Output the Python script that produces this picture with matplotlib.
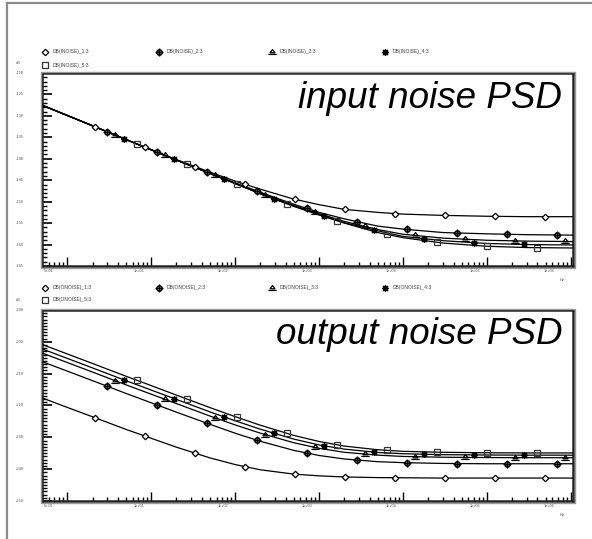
import numpy as np
import matplotlib
matplotlib.use("Agg")
import matplotlib.pyplot as plt
from matplotlib.path import Path
from matplotlib.patches import Rectangle
from matplotlib.ticker import FixedLocator, NullFormatter
from matplotlib.transforms import blended_transform_factory

plt.rcParams['font.family'] = ['Liberation Sans', 'DejaVu Sans']

# frequency points (Hz)
freq = [0.5, 1, 2, 5, 10, 20, 50, 100, 200, 500, 1e3, 2e3, 5e3, 1e4, 3e4, 1e5, 3e5, 1.06e6]

# input noise PSD (dB)
in_1 = [-127.5, -129.9, -132.3, -135.5, -137.9, -140.2, -143.1, -145.2, -147.1, -149.4,
        -150.7, -151.8, -152.5, -152.9, -153.2, -153.4, -153.5, -153.5]
in_2 = [-127.5, -129.9, -132.3, -135.5, -137.9, -140.3, -143.4, -145.6, -147.8, -150.6,
        -152.5, -154.0, -155.7, -156.4, -157.2, -157.5, -157.7, -157.8]
in_3 = [-127.5, -129.9, -132.3, -135.5, -137.9, -140.3, -143.4, -145.7, -148.0, -150.9,
        -152.8, -154.6, -156.5, -157.6, -158.5, -159.0, -159.2, -159.3]
in_4 = [-127.5, -129.9, -132.3, -135.5, -137.9, -140.3, -143.4, -145.75, -148.1, -151.0,
        -153.0, -154.9, -156.8, -158.1, -159.1, -159.75, -160.0, -160.1]
in_5 = [-127.5, -129.9, -132.3, -135.5, -137.9, -140.3, -143.4, -145.8, -148.2, -151.1,
        -153.1, -155.0, -157.2, -158.4, -159.65, -160.4, -160.7, -160.8]

# output noise PSD (dB)
out_1 = [-217.6, -220.6, -223.55, -227.5, -230.3, -233.1, -236.45, -238.55, -240.2, -241.55,
         -242.1, -242.45, -242.65, -242.7, -242.8, -242.8, -242.8, -242.8]
out_2 = [-206.2, -209.2, -212.2, -216.2, -219.15, -222.1, -225.9, -228.7, -231.25, -234.1,
         -235.7, -236.8, -237.65, -237.95, -238.2, -238.3, -238.3, -238.3]
out_3 = [-203.5, -206.5, -209.5, -213.5, -216.45, -219.4, -223.3, -226.1, -228.7, -231.7,
         -233.45, -234.7, -235.6, -236.0, -236.25, -236.35, -236.4, -236.4]
out_4 = [-202.2, -205.2, -208.2, -212.2, -215.15, -218.1, -222.0, -224.8, -227.45, -230.55,
         -232.4, -233.7, -234.75, -235.15, -235.45, -235.55, -235.6, -235.6]
out_5 = [-200.8, -203.8, -206.8, -210.8, -213.75, -216.75, -220.65, -223.5, -226.2, -229.4,
         -231.3, -232.75, -233.9, -234.4, -234.7, -234.85, -234.9, -234.9]

in_names = ["DB(INOISE)_1:3", "DB(INOISE)_2:3", "DB(INOISE)_3:3", "DB(INOISE)_4:3", "DB(INOISE)_5:3"]
out_names = ["DB(ONOISE)_1:3", "DB(ONOISE)_2:3", "DB(ONOISE)_3:3", "DB(ONOISE)_4:3", "DB(ONOISE)_5:3"]
x_tick_labels = ["1e+01", "1e+02", "1e+03", "1e+04", "1e+05", "1e+06"]

# trace symbols: first marker position (log10 Hz) per trace, same spacing for all
mark_start = [0.333, 0.476, 0.571, 0.679, 0.833]
mark_step = 0.595

W, H = 592, 539
fig = plt.figure(figsize=(W / 100, H / 100), dpi=100)
fig.patch.set_facecolor('white')

tri = Path([(-0.5, -0.05), (0, 0.6), (0.5, -0.05), (-0.5, -0.05), (-0.85, -0.4), (0.85, -0.4)],
           [Path.MOVETO, Path.LINETO, Path.LINETO, Path.CLOSEPOLY, Path.MOVETO, Path.LINETO])


def put_marker(ax, x, y, i, **kw):
    if i == 0:
        ax.plot(x, y, ls='none', marker='D', ms=3.3, mfc='white', mec='k', mew=0.9, **kw)
    elif i == 1:
        ax.plot(x, y, ls='none', marker='o', ms=3.9, mfc='#888', mec='k', mew=1.0, **kw)
        ax.plot(x, y, ls='none', marker='+', ms=6.0, mec='k', mew=1.0, **kw)
    elif i == 2:
        ax.plot(x, y, ls='none', marker=tri, ms=6.0, mfc='none', mec='k', mew=0.9, **kw)
    elif i == 3:
        ax.plot(x, y, ls='none', marker=(8, 2, 0), ms=5.0, mec='k', mew=0.9, **kw)
    else:
        ax.plot(x, y, ls='none', marker='s', ms=4.2, mfc='none', mec='#333', mew=0.9, **kw)


def draw_panel(top_px, bot_px, series, ylo, yhi, ymajor, title, title_base):
    ax = fig.add_axes([42 / W, 1 - bot_px / H, (573 - 42) / W, (bot_px - top_px) / H])
    lf = np.log10(freq)
    for i, s in enumerate(series):
        ax.plot(freq, s, color='k', lw=0.9, zorder=3)
        # symbol positions along the trace
        mx = np.arange(mark_start[i], lf[-1], mark_step)
        my = np.interp(mx, lf, s)
        put_marker(ax, 10 ** mx, my, i, zorder=4)
    ax.set_xscale('log')
    ax.set_xlim(0.5, 1.06e6)
    ax.set_ylim(ylo, yhi)

    ax.xaxis.set_major_locator(FixedLocator([10.0 ** k for k in range(0, 7)]))
    minors = [m * 10.0 ** k for k in range(-1, 6) for m in range(2, 10)]
    ax.xaxis.set_minor_locator(FixedLocator([v for v in minors if 0.5 < v < 1.06e6]))
    ax.xaxis.set_major_formatter(NullFormatter())
    ax.xaxis.set_minor_formatter(NullFormatter())
    ax.yaxis.set_major_locator(FixedLocator(np.arange(ylo, yhi + 0.1, ymajor)))
    ax.yaxis.set_minor_locator(FixedLocator(np.arange(ylo, yhi + 0.1, 1)))
    ax.yaxis.set_major_formatter(NullFormatter())
    ax.tick_params(axis='x', which='major', direction='in', length=6.5, width=1.0)
    ax.tick_params(axis='x', which='minor', direction='in', length=3.0, width=1.0)
    ax.tick_params(axis='y', which='major', direction='in', length=7.0, width=1.2)
    ax.tick_params(axis='y', which='minor', direction='in', length=3.6, width=1.0)
    for sp in ax.spines.values():
        sp.set_linewidth(1.8)
        sp.set_color('#222')

    # y tick labels sit far left of the axis
    tr = blended_transform_factory(fig.transFigure, ax.transData)
    for v in np.arange(ylo, yhi + 0.1, ymajor):
        ax.text(20 / W, v, "%d" % v, transform=tr, fontsize=2.9, color='#555',
                ha='center', va='center', clip_on=False)
    fig.text(18 / W, 1 - (top_px - 10) / H, "dB", fontsize=2.9, color='#555', ha='center', va='center')

    # x tick labels
    tx = blended_transform_factory(ax.transData, fig.transFigure)
    ly = 1 - (bot_px + 5) / H
    ax.text(0.5 * 10 ** (2 / 84), ly, "5e-01", transform=tx, fontsize=2.7, color='#555',
            ha='left', va='center', clip_on=False)
    for k, lab in enumerate(x_tick_labels):
        d = k + 1
        off = 22 if d == 6 else 12
        ax.text(10 ** (d - off / 84), ly, lab, transform=tx, fontsize=2.7, color='#555',
                ha='center', va='center', clip_on=False)
    fig.text(562 / W, 1 - (bot_px + 14) / H, "Hz", fontsize=2.9, color='#555', ha='center', va='center')

    fig.text(562 / W, 1 - title_base / H, title, fontsize=26.5, style='italic',
             ha='right', va='baseline', color='k')
    return ax


ax1 = draw_panel(73, 266, [in_1, in_2, in_3, in_4, in_5], -165, -120, 5, "input noise PSD", 108)
ax2 = draw_panel(310, 501, [out_1, out_2, out_3, out_4, out_5], -250, -190, 10, "output noise PSD", 344)

# overlay in pixel coordinates: page border, frame shadow, legends
ov = fig.add_axes([0, 0, 1, 1], zorder=10)
ov.set_xlim(0, W)
ov.set_ylim(H, 0)
ov.axis('off')
ov.plot([7, 7], [3, H], color='#8a8a8a', lw=1.6)
ov.plot([7, W], [3, 3], color='#8a8a8a', lw=1.6)
for top, bot in [(73, 266), (310, 501)]:
    ov.add_patch(Rectangle((40.5, top - 1.5), 534, bot - top + 3, fill=False, ec='#999', lw=1.0))

leg_x = [45, 159, 272, 385, 45]
for names, row1, row2 in [(in_names, 52, 65), (out_names, 288, 300)]:
    for i, nm in enumerate(names):
        yy = row1 if i < 4 else row2
        put_marker(ov, [leg_x[i]], [yy], i)
        ov.text(leg_x[i] + 8, yy, nm, fontsize=3.6, color='#444', ha='left', va='center')

fig.savefig("out.png", dpi=100)
